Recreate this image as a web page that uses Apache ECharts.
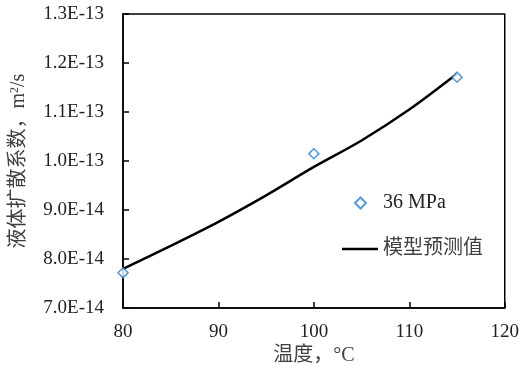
<!DOCTYPE html>
<html>
<head>
<meta charset="utf-8">
<script src="https://cdn.jsdelivr.net/npm/echarts@6/dist/echarts.min.js"></script>
<style>html,body{margin:0;padding:0;background:#fff;}#c{width:522px;height:371px;}</style>
</head>
<body>
<div id="c"></div>
<script>
// Values in units of 1E-14 m2/s
const measTemps = [80, 100, 115];
const measValues = [7.72, 10.15, 11.71];
const modelTemps = [80, 85, 90, 95, 100, 105, 110, 115];
const modelValues = [7.80, 8.27, 8.76, 9.30, 9.88, 10.42, 11.05, 11.78];
const yTicks = [7, 8, 9, 10, 11, 12, 13];
const yTickLabels = ['7.0E-14', '8.0E-14', '9.0E-14', '1.0E-13', '1.1E-13', '1.2E-13', '1.3E-13'];
const xTicks = [80, 90, 100, 110, 120];

const serif = "'Liberation Serif', 'Noto Sans CJK SC', serif";
const chart = echarts.init(document.getElementById('c'), null, {renderer: 'canvas'});
chart.setOption({
  animation: false,
  backgroundColor: '#fff',
  grid: {left: 123, right: 16, top: 14, bottom: 55, show: true, borderColor: '#000', borderWidth: 1.5},
  legend: [
    {
      left: 349, top: 188, itemWidth: 11, itemHeight: 11,
      textStyle: {fontFamily: serif, fontSize: 20, lineHeight: 20, color: '#222', padding: [0, 0, 0, 12]},
      data: [{name: '36 MPa', icon: 'diamond'}]
    },
    {
      left: 337, top: 234, itemWidth: 36, itemHeight: 2.5,
      textStyle: {fontFamily: serif, fontSize: 20, lineHeight: 20, color: '#404040'},
      data: [{name: '模型预测值', icon: 'rect', itemStyle: {color: '#000'}}]
    }
  ],
  xAxis: {
    type: 'value', min: 80, max: 120, interval: 10,
    name: '温度，°C', nameLocation: 'middle', nameGap: 36,
    nameTextStyle: {fontFamily: serif, fontSize: 20, color: '#404040'},
    axisLine: {lineStyle: {color: '#000', width: 1.5}},
    axisTick: {inside: true, length: 6, lineStyle: {color: '#000', width: 1.5}},
    axisLabel: {fontFamily: serif, fontSize: 19, color: '#222', margin: 14},
    splitLine: {show: false}
  },
  yAxis: {
    type: 'value', min: 7, max: 13, interval: 1,
    name: '{a|液体扩散系数，m}{s|2}{a|/s}', nameLocation: 'middle', nameGap: 94,
    nameTextStyle: {
      rich: {
        a: {fontFamily: serif, fontSize: 20, color: '#404040'},
        s: {fontFamily: serif, fontSize: 12, color: '#404040', verticalAlign: 'top', lineHeight: 20, padding: [0, 0, 8, 0]}
      }
    },
    axisLine: {show: true, lineStyle: {color: '#000', width: 1.5}},
    axisTick: {inside: true, length: 6, lineStyle: {color: '#000', width: 1.5}},
    axisLabel: {
      fontFamily: serif, fontSize: 19, color: '#222', margin: 19,
      formatter: v => yTickLabels[yTicks.indexOf(Math.round(v))] || ''
    },
    splitLine: {show: false}
  },
  series: [
    {
      name: '模型预测值', type: 'line', smooth: 0.3, symbol: 'none', z: 2,
      lineStyle: {color: '#000', width: 2.5},
      itemStyle: {color: '#000'},
      data: modelTemps.map((t, i) => [t, modelValues[i]])
    },
    {
      name: '36 MPa', type: 'scatter', symbol: 'diamond', symbolSize: 10, z: 3,
      itemStyle: {color: '#fff', borderColor: '#2E7FCB', borderWidth: 1.6},
      data: measTemps.map((t, i) => [t, measValues[i]])
    }
  ]
});
</script>
</body>
</html>
